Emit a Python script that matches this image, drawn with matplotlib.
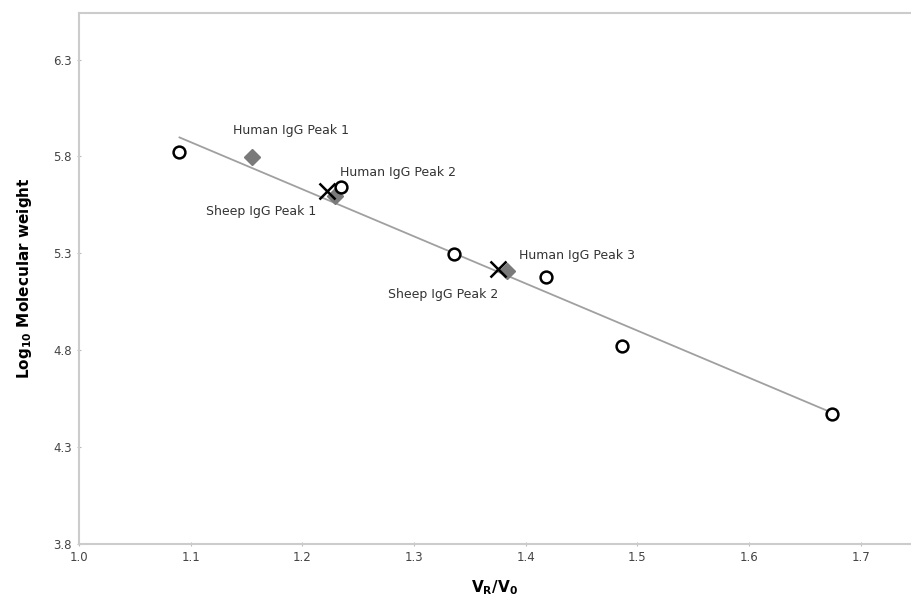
import matplotlib.pyplot as plt
import numpy as np

# calibration standards (open circles)
std_x = np.array([1.090, 1.235, 1.336, 1.418, 1.486, 1.674])
std_y = np.array([5.823, 5.643, 5.299, 5.176, 4.822, 4.472])

# human IgG peaks (grey diamonds)
hum_x = np.array([1.155, 1.229, 1.383])
hum_y = np.array([5.797, 5.597, 5.207])
hum_lab = ["Human IgG Peak 1", "Human IgG Peak 2", "Human IgG Peak 3"]

# sheep IgG peaks (crosses)
shp_x = np.array([1.222, 1.375])
shp_y = np.array([5.619, 5.217])
shp_lab = ["Sheep IgG Peak 1", "Sheep IgG Peak 2"]

# linear fit line endpoints
fit_x = np.array([1.090, 1.674])
fit_y = np.array([5.898, 4.478])

xticks = [1.0, 1.1, 1.2, 1.3, 1.4, 1.5, 1.6, 1.7]
yticks = [3.8, 4.3, 4.8, 5.3, 5.8, 6.3]

fig = plt.figure(figsize=(9.11, 5.99), dpi=100)
ax = fig.add_axes([0.0867, 0.0918, 0.9133, 0.8865])

ax.plot(fit_x, fit_y, color="#a0a0a0", lw=1.3, zorder=1)
ax.plot(std_x, std_y, "o", ms=8.5, mfc="white", mec="black", mew=1.8, zorder=3)
ax.plot(hum_x, hum_y, "D", ms=8, color="#7a7a7a", zorder=2)
ax.plot(shp_x, shp_y, "x", ms=11, color="black", mew=1.8, zorder=4)

# label offsets in points: (dx, dy, ha)
hum_off = [(-14, 19, "left"), (4, 17, "left"), (9, 11.5, "left")]
shp_off = [(-8, -14.5, "right"), (-79, -18, "left")]

for x, y, t, (dx, dy, ha) in zip(hum_x, hum_y, hum_lab, hum_off):
    ax.annotate(t, (x, y), xytext=(dx, dy), textcoords="offset points",
                ha=ha, va="center", fontsize=9, color="#333333")
for x, y, t, (dx, dy, ha) in zip(shp_x, shp_y, shp_lab, shp_off):
    ax.annotate(t, (x, y), xytext=(dx, dy), textcoords="offset points",
                ha=ha, va="center", fontsize=9, color="#333333")

ax.set_xlim(1.0, 1.745)
ax.set_ylim(3.8, 6.54)
ax.set_xticks(xticks)
ax.set_xticklabels(["%.1f" % v for v in xticks])
ax.set_yticks(yticks)
ax.set_yticklabels(["%.1f" % v for v in yticks])
ax.tick_params(labelsize=8.5, colors="#444444", length=3, color="#bbbbbb",
               direction="inout")

for s in ["left", "top", "bottom"]:
    ax.spines[s].set_color("#cccccc")
    ax.spines[s].set_linewidth(1.5)
ax.spines["right"].set_visible(False)

ax.set_xlabel(r"$\mathbf{V_R/V_0}$", fontsize=11, labelpad=10)
ax.set_ylabel(r"Log$_{\mathbf{10}}$ Molecular weight", fontsize=11,
              fontweight="bold", labelpad=14)

fig.savefig("out.png", dpi=100)
